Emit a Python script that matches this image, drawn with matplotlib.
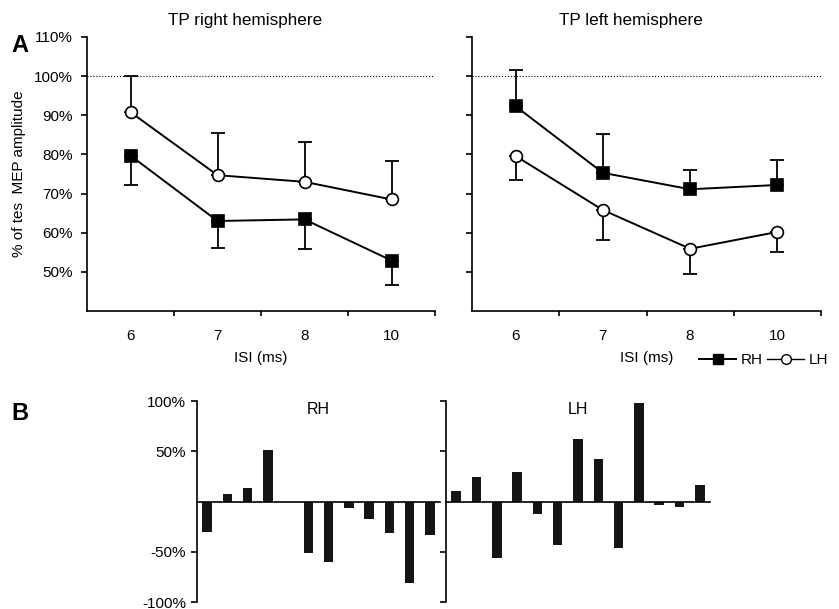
import matplotlib
matplotlib.use("Agg")
import matplotlib.pyplot as plt
from matplotlib.lines import Line2D
import numpy as np

plt.rcParams["font.family"] = ["Liberation Sans", "DejaVu Sans"]

# --- Panel A data (ISI in ms, % of test MEP amplitude) ---
isi_labels = ["6", "7", "8", "10"]

# TP right hemisphere
right_rh_mean = [79.7, 63.0, 63.4, 52.9]
right_rh_err = [7.6, 6.8, 7.5, 6.3]      # drawn downward
right_lh_mean = [90.8, 74.7, 73.0, 68.5]
right_lh_err = [9.3, 10.8, 10.1, 9.8]    # drawn upward

# TP left hemisphere
left_rh_mean = [92.3, 75.3, 71.1, 72.2]
left_rh_err = [9.2, 10.0, 4.9, 6.3]      # drawn upward
left_lh_mean = [79.6, 65.8, 55.9, 60.2]
left_lh_err = [6.2, 7.7, 6.5, 5.1]       # drawn downward

# --- Panel B data (individual subjects, % change) ---
rh_subject_change = [-30, 7.6, 13.6, 51.7, 0, -51, -60.3, -6.6, -17.2, -31.1, -81.1, -33]
lh_subject_change = [10.8, 24.6, -56, 29.2, -12.1, -43.3, 62.3, 42, -45.9, 97.7, -3, -5.2, 16.7]

W, H = 839, 609
fig = plt.figure(figsize=(W / 100, H / 100), dpi=100)


def box(x0, y0, x1, y1):
    return [x0 / W, 1 - y1 / H, (x1 - x0) / W, (y1 - y0) / H]


ax_r = fig.add_axes(box(87, 37, 435, 311))
ax_l = fig.add_axes(box(472, 37, 821, 311))
ax_b1 = fig.add_axes(box(197, 401, 440, 602))
ax_b2 = fig.add_axes(box(446, 401, 710, 602))

x = np.arange(len(isi_labels)) + 0.5
yt = [50, 60, 70, 80, 90, 100, 110]


def style_a(ax, show_labels):
    ax.set_xlim(0, len(isi_labels))
    ax.set_ylim(40, 110)
    ax.spines[["top", "right"]].set_visible(False)
    ax.set_yticks(yt)
    ax.set_yticklabels([f"{v}%" for v in yt] if show_labels else [])
    ax.set_xticks(x)
    ax.set_xticklabels(isi_labels)
    ax.set_xticks(np.arange(1, len(isi_labels) + 1), minor=True)
    ax.tick_params(axis="x", which="major", length=0, pad=13, labelsize=11)
    ax.tick_params(axis="x", which="minor", length=3.5, width=1.2)
    ax.tick_params(axis="y", length=4, width=1.2, pad=6, labelsize=11)
    for s in ax.spines.values():
        s.set_linewidth(1.2)
    ax.axhline(100, color="black", linestyle=":", linewidth=0.8)
    ax.set_xlabel("ISI (ms)", fontsize=11, labelpad=6)


def plot_series(ax, mean, err, up, marker, face):
    yerr = [np.zeros(len(err)), err] if up else [err, np.zeros(len(err))]
    ax.errorbar(x, mean, yerr=yerr, fmt="none", ecolor="black",
                elinewidth=1.3, capsize=5, capthick=1.3, zorder=2)
    ax.plot(x, mean, color="black", linewidth=1.4, marker=marker,
            markersize=8.5 if marker == "o" else 8, markerfacecolor=face,
            markeredgecolor="black", markeredgewidth=1.2, zorder=3)


plot_series(ax_r, right_lh_mean, right_lh_err, True, "o", "white")
plot_series(ax_r, right_rh_mean, right_rh_err, False, "s", "black")
plot_series(ax_l, left_rh_mean, left_rh_err, True, "s", "black")
plot_series(ax_l, left_lh_mean, left_lh_err, False, "o", "white")
style_a(ax_r, True)
style_a(ax_l, False)
fig.text(245 / W, 1 - 20 / H, "TP right hemisphere", fontsize=12.3, ha="center", va="center")
fig.text(631 / W, 1 - 20 / H, "TP left hemisphere", fontsize=12.3, ha="center", va="center")
ax_r.set_ylabel("% of tes  MEP amplitude", fontsize=11, labelpad=6)

handles = [
    Line2D([], [], color="black", marker="s", markersize=7, linewidth=1.4),
    Line2D([], [], color="black", marker="o", markersize=7, markerfacecolor="white",
           linewidth=1.0),
]
fig.legend(handles, ["RH", "LH"], loc="center right", bbox_to_anchor=(828 / W, 1 - 360 / H),
           ncol=2, frameon=False, fontsize=11, handlelength=2.4, handletextpad=0.3,
           columnspacing=0.3, borderaxespad=0.0, borderpad=0.0)


def style_b(ax, values, label, show_labels):
    pos = np.arange(len(values)) + 0.5
    ax.bar(pos, values, width=0.47, color="#151515")
    ax.set_xlim(0, len(values))
    ax.set_ylim(-100, 100)
    ax.spines[["top", "right"]].set_visible(False)
    ax.spines["bottom"].set_position(("data", 0))
    ax.spines["bottom"].set_linewidth(1.2)
    ax.spines["left"].set_linewidth(1.2)
    ax.set_xticks([])
    ax.set_yticks([-100, -50, 50, 100])
    ax.set_yticklabels(["-100%", "-50%", "50%", "100%"] if show_labels else [])
    ax.tick_params(axis="y", length=4.5, width=1.2, labelsize=11)
    ax.text(0.5, 0.995, label, transform=ax.transAxes,
            ha="center", va="top", fontsize=11.5)


style_b(ax_b1, rh_subject_change, "RH", True)
style_b(ax_b2, lh_subject_change, "LH", False)

fig.text(11 / W, 1 - 45 / H, "A", fontsize=17, fontweight="bold", va="center")
fig.text(11 / W, 1 - 413 / H, "B", fontsize=17, fontweight="bold", va="center")

fig.savefig("out.png", dpi=100)
